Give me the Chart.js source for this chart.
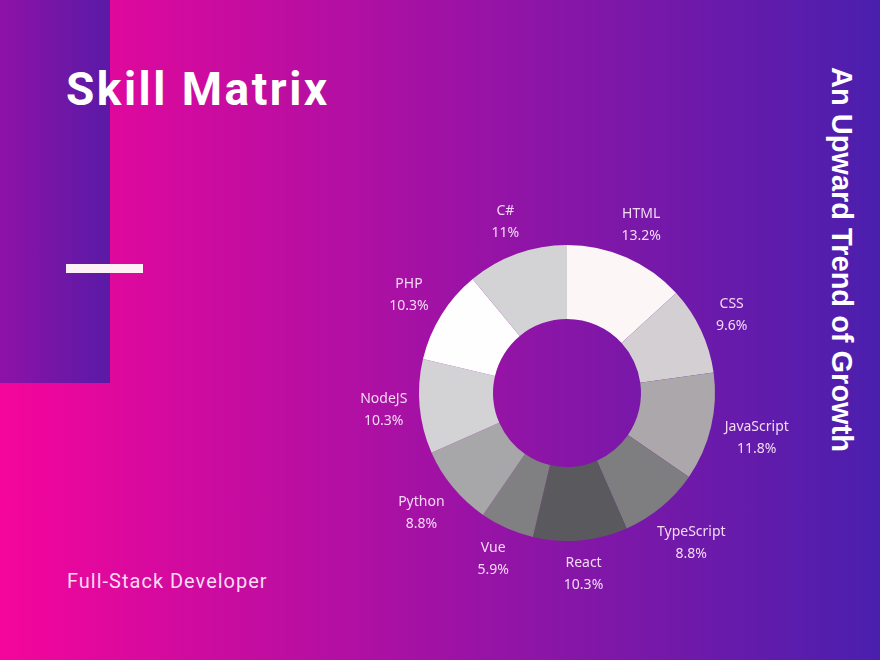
<!DOCTYPE html>
<html>
<head>
<meta charset="utf-8">
<script src="https://cdn.jsdelivr.net/npm/chart.js@4.4.1/dist/chart.umd.min.js"></script>
<style>
  html, body { margin: 0; padding: 0; }
  body {
    width: 880px; height: 660px; overflow: hidden; position: relative;
    background: linear-gradient(90deg, #f5059b 0%, #4a1fae 100%);
  }
  .panel {
    position: absolute; left: 0; top: 0; width: 110px; height: 383px;
    background: linear-gradient(90deg, #8e12a6, #5a1aa6);
  }
  .title {
    position: absolute; left: 66px; top: 62px; margin: 0;
    font: 700 46px Roboto, sans-serif; color: #fff; letter-spacing: 2.5px;
    white-space: nowrap;
  }
  .bar {
    position: absolute; left: 66px; top: 264px; width: 77px; height: 9px;
    background: #fdf1f7;
  }
  .subtitle {
    position: absolute; left: 67px; top: 569px;
    font: 400 20px Roboto, sans-serif; color: #fadcf4; letter-spacing: 1px;
    white-space: nowrap;
  }
  .side {
    position: absolute; left: 825px; top: 67px;
    writing-mode: vertical-rl; line-height: 1.1;
    font: 700 29px "Liberation Sans", Arial, sans-serif; color: #fff;
    white-space: nowrap;
  }
  #chart { position: absolute; left: 0; top: 0; }
</style>
</head>
<body>
<div class="panel"></div>
<h1 class="title">Skill Matrix</h1>
<div class="bar"></div>
<div class="subtitle">Full-Stack Developer</div>
<div class="side">An Upward Trend of Growth</div>
<canvas id="chart" width="880" height="660"></canvas>
<script>
  // Skill shares (percent), clockwise from 12 o'clock
  const skills = ['HTML', 'CSS', 'JavaScript', 'TypeScript', 'React', 'Vue', 'Python', 'NodeJS', 'PHP', 'C#'];
  const shares = [13.2, 9.6, 11.8, 8.8, 10.3, 5.9, 8.8, 10.3, 10.3, 11];
  const sliceColors = ['#fdf6f6', '#d4cfd2', '#aba7ab', '#7e7d80', '#5a5a5e',
                       '#808083', '#a7a6a9', '#d3d2d5', '#fefefe', '#d3d3d5'];

  // Draws "name / value%" outside each slice
  const outerLabels = {
    id: 'outerLabels',
    afterDatasetsDraw(chart) {
      const ctx = chart.ctx;
      const meta = chart.getDatasetMeta(0);
      const lineGap = 22;
      ctx.save();
      ctx.font = '14px "Noto Sans", sans-serif';
      ctx.fillStyle = '#f3d9f3';
      ctx.textAlign = 'center';
      ctx.textBaseline = 'middle';
      meta.data.forEach((arc, i) => {
        const p = arc.getProps(['x', 'y', 'startAngle', 'endAngle', 'outerRadius'], true);
        const mid = (p.startAngle + p.endAngle) / 2;
        const cos = Math.cos(mid), sin = Math.sin(mid);
        const line1 = chart.data.labels[i];
        const line2 = chart.data.datasets[0].data[i] + '%';
        const hw = Math.max(ctx.measureText(line1).width, ctx.measureText(line2).width) / 2;
        const hh = 18;
        // push label out until its box clears the ring
        let r = p.outerRadius + 34;
        const clear = p.outerRadius + 11;
        const nearest = rr => {
          const nx = Math.max(0, Math.abs(cos * rr) - hw);
          const ny = Math.max(0, Math.abs(sin * rr) - hh);
          return Math.hypot(nx, ny);
        };
        while (nearest(r) < clear && r < p.outerRadius + 120) r += 1;
        const cx = p.x + cos * r, cy = p.y + sin * r;
        ctx.fillText(line1, cx, cy - lineGap / 2);
        ctx.fillText(line2, cx, cy + lineGap / 2);
      });
      ctx.restore();
    }
  };

  new Chart(document.getElementById('chart'), {
    type: 'doughnut',
    data: {
      labels: skills,
      datasets: [{
        data: shares,
        backgroundColor: sliceColors,
        borderWidth: 0
      }]
    },
    options: {
      responsive: false,
      animation: false,
      cutout: '50%',
      layout: { padding: { left: 419, right: 165, top: 245, bottom: 119 } },
      plugins: {
        legend: { display: false },
        tooltip: { enabled: false }
      }
    },
    plugins: [outerLabels]
  });
</script>
</body>
</html>
